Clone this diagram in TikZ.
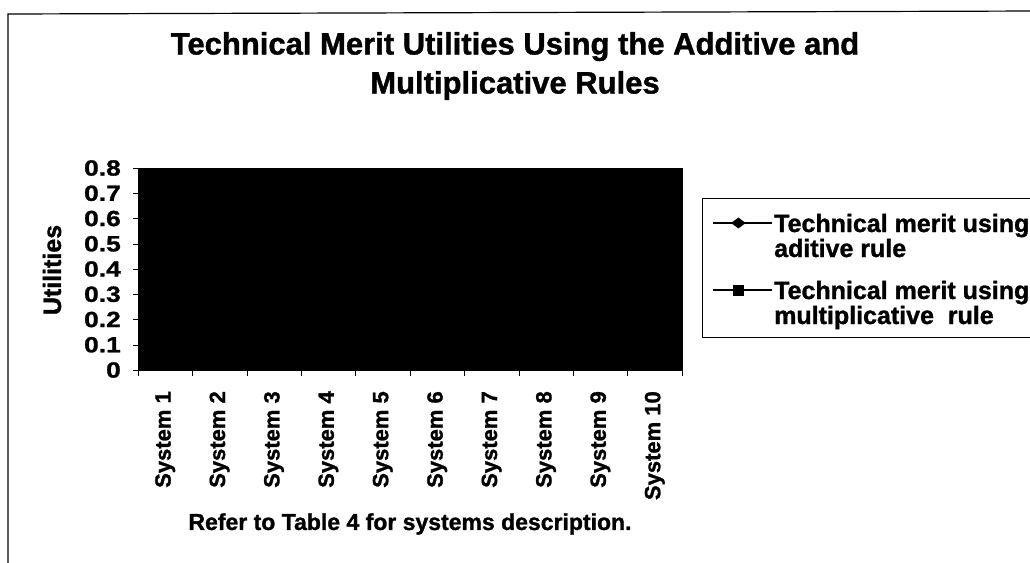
\documentclass[tikz,border=0pt]{standalone}
\usepackage{fontspec}
\setmainfont{Liberation Sans}[FakeBold=1.2]
\newfontfamily\tickfont{Liberation Sans}[FakeBold=1.2,FakeStretch=1.2]
\usetikzlibrary{positioning,shapes.geometric,calc}

\tikzset{
  ticklab/.style={font=\tickfont\fontsize{22}{22}\selectfont\bfseries,anchor=east,inner sep=0pt},
  syslab/.style={font=\fontsize{22}{22}\selectfont\bfseries,rotate=90,anchor=east,inner sep=0pt},
  legtext/.style={font=\fontsize{25}{25}\selectfont\bfseries,anchor=base west,inner sep=0pt},
  legline/.style={line width=2pt},
}

\begin{document}
\begin{tikzpicture}[x=1pt,y=-1pt]
\useasboundingbox (0,0) rectangle (1030,562);
% outer frame
\draw[line width=1.2pt] (8,570) -- (8,14) -- (1040,11);
% title
\node[font=\fontsize{31}{39}\selectfont\bfseries,align=center] (title) at (515,66)
  {Technical Merit Utilities Using the Additive and\\Multiplicative Rules};
% plot area
\filldraw (138,168) rectangle (682,370);
\draw (138,168) -- (138,370) -- (682,370);
\foreach \i in {0,...,8} {
  \draw ({133},{370-25.25*\i}) -- ({138},{370-25.25*\i});
  \ifnum\i=0
    \node[ticklab] (y\i) at ({121},{370-25.25*\i}) {0};
  \else
    \node[ticklab] (y\i) at ({121},{370-25.25*\i}) {0.\i};
  \fi
}
\node[rotate=90,font=\fontsize{25}{25}\selectfont\bfseries] (ylab) at (52,270) {Utilities};
% categories
\foreach \i in {0,...,10}
  \draw ({138+54.4*\i},370) -- ++(0,6);
\foreach \i in {1,...,10}
  \node[syslab] (s\i) at ({138+54.4*(\i-0.5)},391) {System \i};
\node[font=\fontsize{23}{23}\selectfont\bfseries] (note) at (410,524)
  {Refer to Table 4 for systems description.};
% legend
\draw[line width=1pt] (1040,198) -- (702,198) -- (702,337) -- (1040,337);
\coordinate (a1) at (713,223);
\coordinate (b1) at (772,223);
\coordinate (a2) at (713,290);
\coordinate (b2) at (772,290);
\draw[legline] (a1) -- (b1);
\draw[legline] (a2) -- (b2);
\node[diamond,fill,inner sep=0pt,minimum width=15pt,minimum height=11pt] (m1) at ($(a1)!0.43!(b1)$) {};
\node[rectangle,fill,inner sep=0pt,minimum size=11pt] (m2) at ($(a2)!0.43!(b2)$) {};
\node[legtext] (leg1) at (774,232) {Technical merit using};
\node[legtext] (leg1b) at (774,257) {aditive rule};
\node[legtext] (leg2) at (774,299) {Technical merit using};
\node[legtext] (leg2b) at (774,324) {multiplicative\ \ rule};
\end{tikzpicture}
\end{document}
